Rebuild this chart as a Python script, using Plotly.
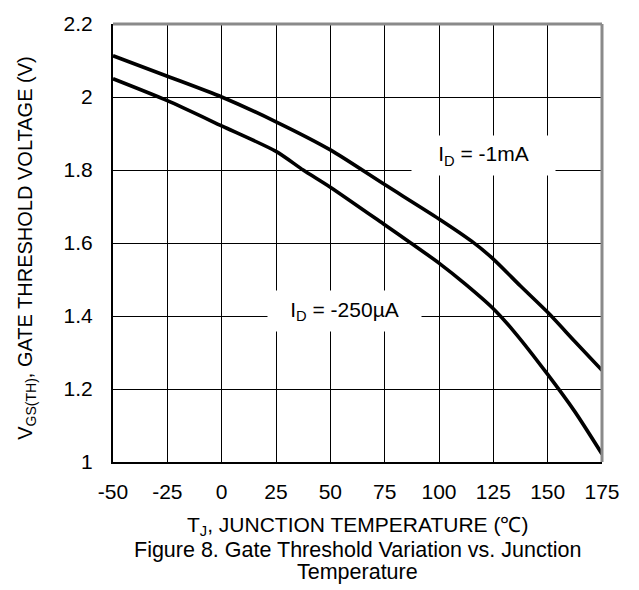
import plotly.graph_objects as go

# ---- data ----
temp_1ma = [-50, -25, 0, 25, 50, 75, 100, 115, 125, 137.5, 150, 162.5, 175]
vth_1ma = [2.113, 2.057, 2.0, 1.932, 1.855, 1.760, 1.666, 1.605, 1.556, 1.482, 1.41, 1.33, 1.251]

temp_250ua = [-50, -25, 0, 25, 37.5, 50, 75, 87, 100, 112, 125, 135, 150, 162.5, 175]
vth_250ua = [2.050, 1.990, 1.921, 1.851, 1.800, 1.753, 1.650, 1.600, 1.545, 1.488, 1.420, 1.354, 1.240, 1.138, 1.022]

x_ticks = [-50, -25, 0, 25, 50, 75, 100, 125, 150, 175]
x_tick_text = ["-50", "-25", "0", "25", "50", "75", "100", "125", "150", "175"]
y_ticks = [1, 1.2, 1.4, 1.6, 1.8, 2, 2.2]
y_tick_text = ["1", "1.2", "1.4", "1.6", "1.8", "2", "2.2"]

label_1ma = "I<sub>D</sub> = -1mA"
label_250ua = "I<sub>D</sub> = -250µA"
x_title = "T<sub>J</sub>, JUNCTION TEMPERATURE (℃)"
y_title = "V<sub>GS(TH)</sub>, GATE THRESHOLD VOLTAGE (V)"
caption_1 = "Figure 8. Gate Threshold Variation vs. Junction"
caption_2 = "Temperature"

FONT = "Liberation Sans, Arial, sans-serif"

fig = go.Figure()
for xs, ys in [(temp_1ma, vth_1ma), (temp_250ua, vth_250ua)]:
    fig.add_trace(go.Scatter(
        x=xs, y=ys, mode="lines",
        line=dict(color="black", width=3.6, shape="spline", smoothing=0.7),
        showlegend=False, hoverinfo="skip"))

fig.update_layout(
    width=639, height=590,
    margin=dict(l=113, r=37, t=13, b=128, pad=0),
    paper_bgcolor="white", plot_bgcolor="white",
    font=dict(family=FONT, size=21, color="black"),
    showlegend=False,
)
fig.update_xaxes(
    range=[-50, 175], tickvals=x_ticks, ticktext=x_tick_text, ticks="", ticklabelstandoff=10,
    showgrid=True, gridcolor="black", gridwidth=1,
    showline=True, linecolor="black", linewidth=2,
    zeroline=False, tickfont=dict(size=21),
)
fig.update_yaxes(
    range=[1, 2.2], tickvals=y_ticks, ticktext=y_tick_text, ticks="", ticklabelstandoff=14,
    showgrid=True, gridcolor="black", gridwidth=1,
    showline=True, linecolor="black", linewidth=2,
    zeroline=False, tickfont=dict(size=21),
)

# gray top / right frame
fig.add_shape(type="line", xref="paper", yref="paper", x0=0, x1=1, y0=1, y1=1,
              line=dict(color="#8a8a8a", width=3), layer="above")
fig.add_shape(type="line", xref="paper", yref="paper", x0=1, x1=1, y0=0, y1=1,
              line=dict(color="#8a8a8a", width=3), layer="above")

# curve labels with white boxes
fig.add_annotation(x=120.5, y=1.839, text=label_1ma, showarrow=False,
                   bgcolor="white", width=143, height=39, borderpad=0,
                   font=dict(size=21), xanchor="center", yanchor="middle")
fig.add_annotation(x=56.5, y=1.413, text=label_250ua, showarrow=False,
                   bgcolor="white", width=153, height=40, borderpad=0,
                   font=dict(size=21), xanchor="center", yanchor="middle")

# axis titles and caption
fig.add_annotation(xref="paper", yref="paper", x=0.5, y=-0.146, text=x_title,
                   showarrow=False, xanchor="center", yanchor="middle", font=dict(size=21))
fig.add_annotation(xref="paper", yref="paper", x=0.5, y=-0.202, text=caption_1,
                   showarrow=False, xanchor="center", yanchor="middle", font=dict(size=21.5))
fig.add_annotation(xref="paper", yref="paper", x=0.5, y=-0.252, text=caption_2,
                   showarrow=False, xanchor="center", yanchor="middle", font=dict(size=21.5))
fig.add_annotation(xref="paper", yref="paper", x=-0.176, y=0.489, text=y_title,
                   textangle=-90, showarrow=False, xanchor="center", yanchor="middle",
                   font=dict(size=20))

fig.write_html("out.html")
